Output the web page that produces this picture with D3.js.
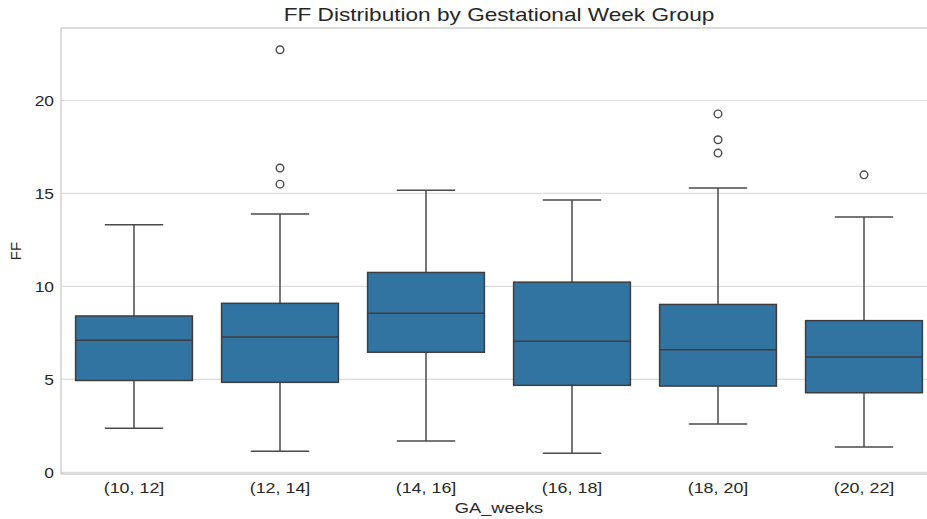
<!DOCTYPE html>
<html>
<head>
<meta charset="utf-8">
<script src="https://cdn.jsdelivr.net/npm/d3@7"></script>
<style>
  html, body { margin: 0; padding: 0; background: #ffffff; }
  svg { display: block; }
</style>
</head>
<body>
<svg id="chart" width="927" height="519"></svg>
<script>
const categories = ["(10, 12]", "(12, 14]", "(14, 16]", "(16, 18]", "(18, 20]", "(20, 22]"];
const whiskerLow  = [2.37, 1.14, 1.69, 1.02, 2.60, 1.36];
const q1          = [4.94, 4.84, 6.46, 4.68, 4.64, 4.28];
const medians     = [7.10, 7.28, 8.55, 7.05, 6.59, 6.21];
const q3          = [8.41, 9.09, 10.75, 10.23, 9.03, 8.16];
const whiskerHigh = [13.32, 13.89, 15.17, 14.65, 15.30, 13.73];
const outliers    = [[], [15.5, 16.37, 22.73], [], [], [17.17, 17.89, 19.28], [16.0]];
const yTicks      = [0, 5, 10, 15, 20];
const title  = "FF Distribution by Gestational Week Group";
const xLabel = "GA_weeks";
const yLabel = "FF";

(function () {
const svg = d3.select("#chart");
const font = "'Liberation Sans', Arial, sans-serif";
const mLeft = 61, mRight = 937, mTop = 28, mBottom = 474;
const stretchX = 1.19;

function stretch(sel, f) {
  sel.each(function () {
    const w = this.getComputedTextLength();
    d3.select(this).attr("textLength", w * f).attr("lengthAdjust", "spacingAndGlyphs");
  });
}

const x = d3.scaleBand().domain(categories).range([mLeft, mRight]).paddingInner(0).paddingOuter(0);
const y = d3.scaleLinear().domain([-0.09, 23.9]).range([mBottom, mTop]);

// grid
svg.append("g").selectAll("line").data(yTicks).join("line")
  .attr("x1", mLeft).attr("x2", mRight)
  .attr("y1", d => y(d)).attr("y2", d => y(d))
  .attr("stroke", "#dcdcdc").attr("stroke-width", 1.2);

// spines
svg.append("line").attr("x1", mLeft).attr("x2", mLeft).attr("y1", mTop).attr("y2", mBottom)
  .attr("stroke", "#d0d0d0").attr("stroke-width", 1.5);
svg.append("line").attr("x1", mLeft).attr("x2", mRight).attr("y1", mBottom).attr("y2", mBottom)
  .attr("stroke", "#d0d0d0").attr("stroke-width", 1.5);
svg.append("line").attr("x1", mLeft).attr("x2", mRight).attr("y1", mTop).attr("y2", mTop)
  .attr("stroke", "#d0d0d0").attr("stroke-width", 1.5);

// axes
const yAxis = d3.axisLeft(y).tickValues(yTicks).tickSize(0).tickPadding(7);
const gy = svg.append("g").attr("transform", `translate(${mLeft},0)`).call(yAxis);
gy.select(".domain").remove();
gy.selectAll("text").attr("font-family", font).attr("font-size", 15).attr("fill", "#262626");
stretch(gy.selectAll("text"), 1.16);

const xAxis = d3.axisBottom(x).tickSize(0).tickPadding(8);
const gx = svg.append("g").attr("transform", `translate(0,${mBottom})`).call(xAxis);
gx.select(".domain").remove();
gx.selectAll("text").attr("font-family", font).attr("font-size", 15).attr("fill", "#262626");
stretch(gx.selectAll("text"), stretchX);

// boxes
const bw = x.bandwidth() * 0.8;
const lineColor = "#4a4a4a";
const boxes = svg.append("g").selectAll("g").data(categories).join("g");
boxes.each(function(c, i) {
  const g = d3.select(this);
  const cx = x(c) + x.bandwidth() / 2;
  g.append("line").attr("x1", cx).attr("x2", cx).attr("y1", y(whiskerLow[i])).attr("y2", y(q1[i]))
    .attr("stroke", lineColor).attr("stroke-width", 1.5);
  g.append("line").attr("x1", cx).attr("x2", cx).attr("y1", y(q3[i])).attr("y2", y(whiskerHigh[i]))
    .attr("stroke", lineColor).attr("stroke-width", 1.5);
  g.append("line").attr("x1", cx - bw / 4).attr("x2", cx + bw / 4)
    .attr("y1", y(whiskerLow[i])).attr("y2", y(whiskerLow[i]))
    .attr("stroke", lineColor).attr("stroke-width", 1.5);
  g.append("line").attr("x1", cx - bw / 4).attr("x2", cx + bw / 4)
    .attr("y1", y(whiskerHigh[i])).attr("y2", y(whiskerHigh[i]))
    .attr("stroke", lineColor).attr("stroke-width", 1.5);
  g.append("rect").attr("x", cx - bw / 2).attr("width", bw)
    .attr("y", y(q3[i])).attr("height", y(q1[i]) - y(q3[i]))
    .attr("fill", "#3274a1").attr("stroke", "#3d3d3d").attr("stroke-width", 1.5);
  g.append("line").attr("x1", cx - bw / 2).attr("x2", cx + bw / 2)
    .attr("y1", y(medians[i])).attr("y2", y(medians[i]))
    .attr("stroke", "#3d3d3d").attr("stroke-width", 1.5);
  g.selectAll("circle").data(outliers[i]).join("circle")
    .attr("cx", cx).attr("cy", d => y(d)).attr("r", 3.8)
    .attr("fill", "none").attr("stroke", lineColor).attr("stroke-width", 1.4);
});

// title and labels
const t = svg.append("text").attr("x", (mLeft + mRight) / 2).attr("y", 21)
  .attr("text-anchor", "middle").attr("font-family", font).attr("font-size", 19)
  .attr("fill", "#262626").text(title);
stretch(t, stretchX);
const xl = svg.append("text").attr("x", (mLeft + mRight) / 2).attr("y", 513)
  .attr("text-anchor", "middle").attr("font-family", font).attr("font-size", 15)
  .attr("fill", "#262626").text(xLabel);
stretch(xl, 1.22);
svg.append("text").attr("transform", `translate(21,${(mTop + mBottom) / 2}) rotate(-90)`)
  .attr("text-anchor", "middle").attr("font-family", font).attr("font-size", 15)
  .attr("fill", "#262626").text(yLabel);
})();
</script>
</body>
</html>
